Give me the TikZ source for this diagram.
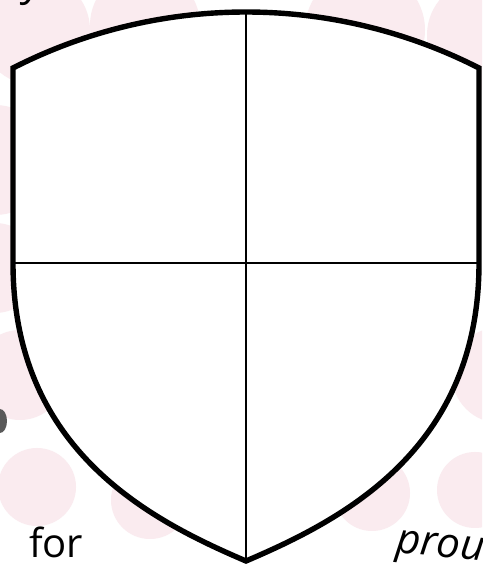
\documentclass[tikz,border=0pt]{standalone}
\usepackage{fontspec}
\newfontfamily\handfont{Open Sans}
\definecolor{dotpink}{RGB}{250,235,239}

\begin{document}
\begin{tikzpicture}[x=1pt,y=1pt,line cap=butt,
  dot/.style={fill=dotpink},
  rim/.style={line width=5.4pt,line join=miter,fill=white},
  split/.style={line width=2.1pt},
  word/.style={font=\handfont\fontsize{40}{44}\selectfont,inner sep=0pt},
  slant/.style={word,font=\handfont\itshape\fontsize{42}{46}\selectfont}]
\useasboundingbox (0,0) rectangle (482,565);
\begin{scope}
\clip (0,0) rectangle (482,565);
\fill[white] (0,0) rectangle (482,565);
\foreach \cx/\cy/\r in {35/535/55,145/540/55,365/535/60,482/530/55,-5/405/55,-5/297/45,
  20/190/45,37/78/39,150/65/39,372/72/38,475/75/38,500/190/48}
  \fill[dot] (\cx,\cy) circle (\r pt);
\fill[gray!70!black] (0,144) ellipse (7pt and 12pt);
\node[slant,anchor=base east] (ny) at (44,569) {ny};
\node[word,anchor=base west] (for) at (29,8) {for};
\node[slant,rotate=-6,anchor=base west] (prou) at (395,13) {prou};
\end{scope}
\coordinate (tl) at (13,497);
\coordinate (tr) at (479,497);
\coordinate (ml) at (13,302);
\coordinate (mr) at (479,302);
\coordinate (peak) at (246,553);
\coordinate (tip) at (246,4);
\filldraw[rim] (ml) -- (tl) arc[start angle=117.03,end angle=62.97,radius=512.7] -- (mr)
  .. controls (479,115) and (342,45) .. (tip)
  .. controls (150,45) and (13,115) .. cycle;
\draw[split] (peak) -- (tip);
\draw[split] (ml) -- (mr);
\end{tikzpicture}
\end{document}
